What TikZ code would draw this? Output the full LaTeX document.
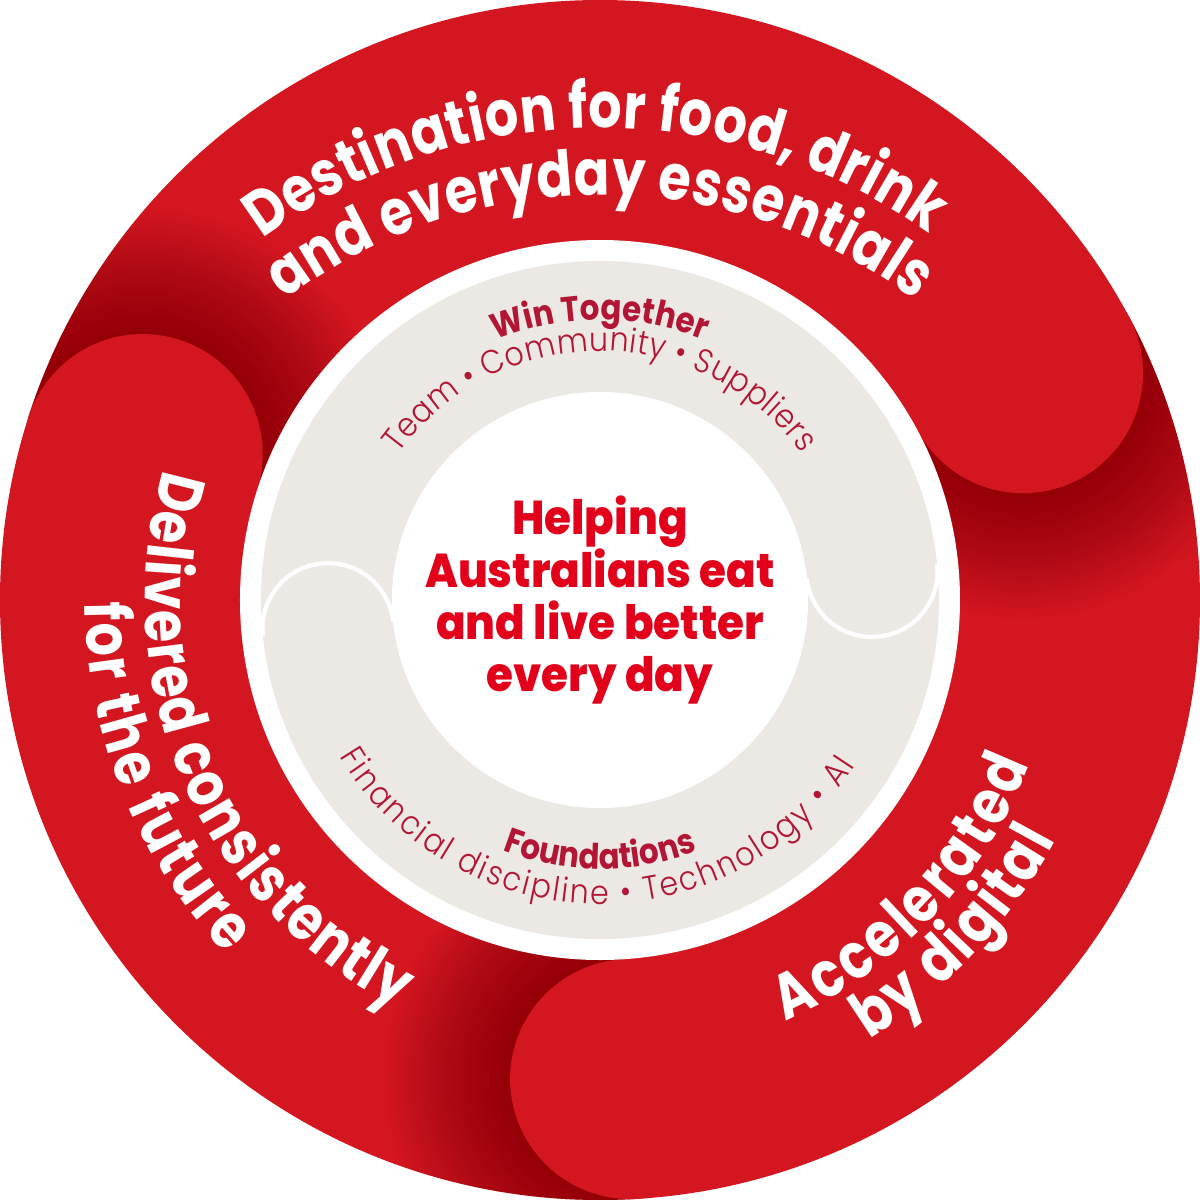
\documentclass[tikz,border=0pt]{standalone}
\usepackage{fontspec}
\usetikzlibrary{decorations.text}
\newfontfamily\headfont{Poppins}[FakeStretch=0.83]
\newfontfamily\titlefont{Poppins}[FakeStretch=0.88]
\newfontfamily\heavyfont{Poppins ExtraBold}[FakeStretch=0.92]
\newfontfamily\lightfont{Poppins Light}[FakeStretch=0.9]
\definecolor{wwred}{RGB}{212,22,32}
\definecolor{wwdark}{RGB}{90,0,5}
\definecolor{ringgrey}{RGB}{236,233,228}
\definecolor{textmaroon}{RGB}{178,22,52}
\definecolor{heartred}{RGB}{226,0,26}
\newcommand\capfont{\headfont\bfseries\fontsize{18}{20}\selectfont}
\newcommand\pillarfont{\titlefont\bfseries\fontsize{10}{12}\selectfont}
\newcommand\valuefont{\lightfont\fontsize{9.5}{11}\selectfont}
\tikzset{
	capword/.style={decorate, decoration={text along path, text align={fit to path}, text color=white, text={#1}}},
	pillarword/.style={decorate, decoration={text along path, text align={fit to path}, text color=textmaroon, text={#1}}},
	pillartitle/.style={decorate, decoration={text along path, text align={center}, text color=textmaroon, text={#1}}}
}
\begin{document}
\begin{tikzpicture}
	\useasboundingbox (-6,-6) rectangle (6,6);

	% Outer red ring
	\fill[wwred] (0,0) circle (6);

	% Shadows cast by the rounded ends
	\foreach \a in {28.2,162.3,273.6}{
		\begin{scope}
			\clip (0,0) circle (6);
			\clip (0,0) -- (\a:7) arc[start angle=\a, end angle=\a-75, radius=7] -- cycle;
			\foreach \i in {1,...,25}
				\fill[wwdark, opacity=0.022] (\a:4.8) circle ({1.2+0.05*\i});
		\end{scope}
	}

	% Rounded ends
	\foreach \a in {28.2,162.3,273.6}
		\fill[wwred] (\a:4.8) circle (1.2);

	% White ring and grey band
	\fill[white] (0,0) circle (3.6);
	\fill[ringgrey] (0,0) circle (3.39);
	\fill[white] (0,0) circle (2.08);

	% Rounded ends of the grey band
	\draw[white, line width=1.2pt] (186:2.735) ++(186:0.655) arc[start angle=186, end angle=6, radius=0.655];
	\draw[white, line width=1.2pt] (6:2.735) ++(6:0.655) arc[start angle=6, end angle=-174, radius=0.655];

	% Labels on the red ring
	\path[shift={(0,-0.95)}, capword={|\capfont|Destination for food, drink}] (126.5:5.67) arc[start angle=126.5, end angle=54.5, radius=5.67];
	\path[shift={(0,-1.2)}, capword={|\capfont|and everyday essentials}] (126.9:5.25) arc[start angle=126.9, end angle=53.1, radius=5.25];
	\path[capword={|\capfont|Delivered consistently}] (163.4:4.55) arc[start angle=163.4, end angle=243.7, radius=4.55];
	\path[capword={|\capfont|for the future}] (180.3:5.15) arc[start angle=180.3, end angle=223.5, radius=5.15];
	\path[capword={|\capfont|Accelerated}] (293.8:4.6) arc[start angle=293.8, end angle=339, radius=4.6];
	\path[capword={|\capfont|by digital}] (301.5:5.15) arc[start angle=301.5, end angle=332.2, radius=5.15];

	% Labels on the grey band
	\path[pillartitle={|\pillarfont|Win Together}] (160:2.8) arc[start angle=160, end angle=20, radius=2.8];
	\path[pillarword={|\valuefont|Team • Community • Suppliers}] (144:2.49) arc[start angle=144, end angle=36, radius=2.49];
	\path[pillartitle={|\pillarfont|Foundations}] (200:2.69) arc[start angle=200, end angle=340, radius=2.69];
	\path[pillarword={|\valuefont|Financial discipline • Technology • AI}] (211:3.04) arc[start angle=211, end angle=327, radius=3.04];

	% Purpose in the middle
	\node[font=\heavyfont\fontsize{13.5}{14.8}\selectfont, text=heartred, align=center] (mission) at (0,0) {Helping\\Australians eat\\and live better\\every day};
\end{tikzpicture}
\end{document}
